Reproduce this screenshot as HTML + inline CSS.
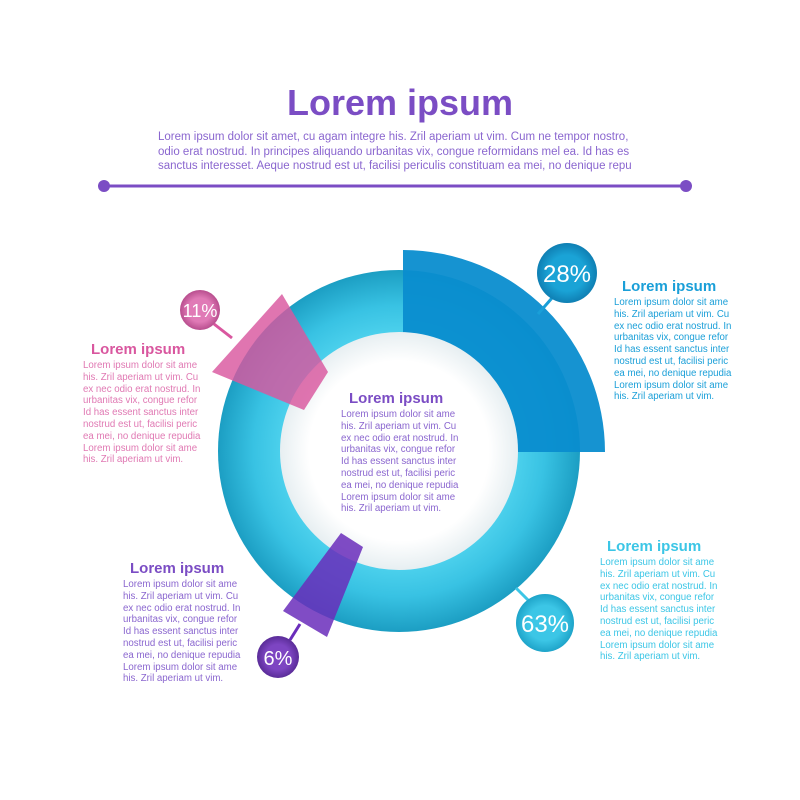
<!DOCTYPE html>
<html><head><meta charset="utf-8"><style>
html,body{margin:0;padding:0;background:#fff;}
body{width:800px;height:800px;position:relative;overflow:hidden;font-family:"Liberation Sans",sans-serif;}
.t{position:absolute;white-space:nowrap;}
.blk{position:absolute;font-size:9.7px;line-height:11.8px;white-space:pre;}
.h{position:absolute;font-size:15px;font-weight:bold;white-space:nowrap;}
</style></head><body>
<svg width="800" height="800" style="position:absolute;left:0;top:0">
<defs>
<radialGradient id="ring" cx="399" cy="451" r="182" gradientUnits="userSpaceOnUse">
<stop offset="0.62" stop-color="#4fd3ee"/>
<stop offset="0.8" stop-color="#38c2e3"/>
<stop offset="1" stop-color="#1b9dc2"/>
</radialGradient>
<radialGradient id="inner" cx="399" cy="451" r="120" gradientUnits="userSpaceOnUse">
<stop offset="0.75" stop-color="#ffffff"/>
<stop offset="1" stop-color="#e6eef1"/>
</radialGradient>
<radialGradient id="c1" cx="0.5" cy="0.5" r="0.5"><stop offset="0.6" stop-color="#1aa3d6"/><stop offset="1" stop-color="#0f7fb3"/></radialGradient>
<radialGradient id="c2" cx="0.5" cy="0.5" r="0.5"><stop offset="0.6" stop-color="#3cc6e6"/><stop offset="1" stop-color="#1ea4c9"/></radialGradient>
<radialGradient id="c3" cx="0.5" cy="0.5" r="0.5"><stop offset="0.6" stop-color="#e07ab6"/><stop offset="1" stop-color="#b84e8e"/></radialGradient>
<radialGradient id="c4" cx="0.5" cy="0.5" r="0.5"><stop offset="0.6" stop-color="#7d45c2"/><stop offset="1" stop-color="#5a2c98"/></radialGradient>
</defs>
<line x1="104" y1="186" x2="686" y2="186" stroke="#7b4dc4" stroke-width="3"/>
<circle cx="104" cy="186" r="6" fill="#7b4dc4"/>
<circle cx="686" cy="186" r="6" fill="#7b4dc4"/>
<circle cx="399" cy="451" r="181" fill="url(#ring)"/>
<path d="M403 250 A202 202 0 0 1 605 452 L503 452 A100 100 0 0 0 403 340 Z" fill="#0a8dcf" fill-opacity="0.95"/>
<circle cx="399" cy="451" r="119" fill="url(#inner)"/>
<polygon points="212,372 282,294 328,372 304,410" fill="#d9579f" fill-opacity="0.82"/>
<polygon points="341,533 363,547 327,637 283,611" fill="#6a2dbb" fill-opacity="0.85"/>
<line x1="552" y1="298" x2="538" y2="314" stroke="#1a9fd8" stroke-width="3"/>
<line x1="530" y1="602" x2="516" y2="588" stroke="#3cc6e6" stroke-width="3"/>
<line x1="290" y1="640" x2="300" y2="624" stroke="#6a2dbb" stroke-width="3"/>
<line x1="214" y1="324" x2="232" y2="338" stroke="#d9579f" stroke-width="3"/>
<circle cx="567" cy="273" r="30" fill="url(#c1)"/>
<circle cx="545" cy="623" r="29" fill="url(#c2)"/>
<circle cx="200" cy="310" r="20" fill="url(#c3)"/>
<circle cx="278" cy="657" r="21" fill="url(#c4)"/>
<g font-family="Liberation Sans, sans-serif" fill="#fff" text-anchor="middle">
<text x="567" y="282" font-size="24">28%</text>
<text x="545" y="632" font-size="24">63%</text>
<text x="200" y="317" font-size="18">11%</text>
<text x="278" y="665" font-size="20">6%</text>
</g>
</svg>
<div class="t" style="left:0;width:800px;text-align:center;top:82px;font-size:36px;font-weight:bold;color:#7b4dc4">Lorem ipsum</div>
<div class="blk" style="left:158px;top:130px;font-size:11.5px;line-height:14.5px;color:#8a66cf">Lorem ipsum dolor sit amet, cu agam integre his. Zril aperiam ut vim. Cum ne tempor nostro,
odio erat nostrud. In principes aliquando urbanitas vix, congue reformidans mel ea. Id has es
sanctus interesset. Aeque nostrud est ut, facilisi periculis constituam ea mei, no denique repu</div>

<div class="h" style="left:622px;top:278px;color:#1a9fd8">Lorem ipsum</div>
<div class="blk" style="left:614px;top:297px;color:#1a9fd8">Lorem ipsum dolor sit ame
his. Zril aperiam ut vim. Cu
ex nec odio erat nostrud. In
urbanitas vix, congue refor
Id has essent sanctus inter
nostrud est ut, facilisi peric
ea mei, no denique repudia
Lorem ipsum dolor sit ame
his. Zril aperiam ut vim.</div>

<div class="h" style="left:91px;top:341px;color:#d9579f">Lorem ipsum</div>
<div class="blk" style="left:83px;top:360px;color:#e079b3">Lorem ipsum dolor sit ame
his. Zril aperiam ut vim. Cu
ex nec odio erat nostrud. In
urbanitas vix, congue refor
Id has essent sanctus inter
nostrud est ut, facilisi peric
ea mei, no denique repudia
Lorem ipsum dolor sit ame
his. Zril aperiam ut vim.</div>

<div class="h" style="left:349px;top:390px;color:#7b4dc4">Lorem ipsum</div>
<div class="blk" style="left:341px;top:409px;color:#8a66cf">Lorem ipsum dolor sit ame
his. Zril aperiam ut vim. Cu
ex nec odio erat nostrud. In
urbanitas vix, congue refor
Id has essent sanctus inter
nostrud est ut, facilisi peric
ea mei, no denique repudia
Lorem ipsum dolor sit ame
his. Zril aperiam ut vim.</div>

<div class="h" style="left:130px;top:560px;color:#7b4dc4">Lorem ipsum</div>
<div class="blk" style="left:123px;top:579px;color:#8a66cf">Lorem ipsum dolor sit ame
his. Zril aperiam ut vim. Cu
ex nec odio erat nostrud. In
urbanitas vix, congue refor
Id has essent sanctus inter
nostrud est ut, facilisi peric
ea mei, no denique repudia
Lorem ipsum dolor sit ame
his. Zril aperiam ut vim.</div>

<div class="h" style="left:607px;top:538px;color:#3cc6e6">Lorem ipsum</div>
<div class="blk" style="left:600px;top:557px;color:#3cc6e6">Lorem ipsum dolor sit ame
his. Zril aperiam ut vim. Cu
ex nec odio erat nostrud. In
urbanitas vix, congue refor
Id has essent sanctus inter
nostrud est ut, facilisi peric
ea mei, no denique repudia
Lorem ipsum dolor sit ame
his. Zril aperiam ut vim.</div>
</body></html>
